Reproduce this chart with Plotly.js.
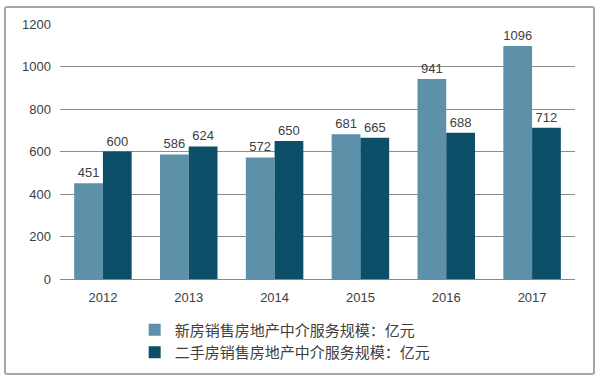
<!DOCTYPE html>
<html><head><meta charset="utf-8">
<script src="https://cdn.plot.ly/plotly-3.0.1.min.js"></script>
<style>
body{margin:0;padding:0;background:#fff;}
#wrap{position:relative;width:600px;height:383px;}
#chart{position:absolute;left:0;top:0;width:600px;height:383px;}
#frame{position:absolute;left:4px;top:6px;width:587px;height:365px;border:2px solid #a6a6a6;border-radius:3px;pointer-events:none;}
</style></head>
<body><div id="wrap"><div id="chart"></div><div id="frame"></div></div>
<script>
var years = ['2012','2013','2014','2015','2016','2017'];
var newHouse = [451, 586, 572, 681, 941, 1096];
var secondHand = [600, 624, 650, 665, 688, 712];
var name1 = '新房销售房地产中介服务规模：亿元';
var name2 = '二手房销售房地产中介服务规模：亿元';
var font = 'Arial, "Liberation Sans", "Noto Sans CJK SC", sans-serif';
var traces = [
  {type:'bar', x:years, y:newHouse, name:name1, marker:{color:'#5d91a9'},
   text:newHouse.map(String), textposition:'outside', cliponaxis:false,
   textfont:{size:13, color:'#404040', family:font}},
  {type:'bar', x:years, y:secondHand, name:name2, marker:{color:'#0d4e69'},
   text:secondHand.map(String), textposition:'outside', cliponaxis:false,
   textfont:{size:13, color:'#404040', family:font}}
];
var layout = {
  width:600, height:383,
  margin:{l:60, r:25, t:24, b:104},
  paper_bgcolor:'#fff', plot_bgcolor:'#fff',
  barmode:'group', bargap:0.33, bargroupgap:0,
  font:{family:font, color:'#404040', size:13},
  xaxis:{type:'category', showgrid:false, showline:true, linecolor:'#888', linewidth:1,
         ticks:'', tickfont:{size:13, color:'#404040'}, ticklabelstandoff:6},
  yaxis:{range:[0,1200], dtick:200, showgrid:true, gridcolor:'#8c8c8c', gridwidth:1,
         zeroline:false, showline:false, ticks:'', tickfont:{size:13, color:'#404040'}, ticklabelstandoff:8},
  showlegend:true,
  legend:{orientation:'v', x:0.145, xanchor:'left', y:-0.135, yanchor:'top',
          font:{size:15, color:'#404040', family:'"Noto Sans CJK SC", sans-serif'},
          itemwidth:30, bgcolor:'rgba(0,0,0,0)'}
};
Plotly.newPlot('chart', traces, layout, {displayModeBar:false, staticPlot:true});
</script></body></html>
